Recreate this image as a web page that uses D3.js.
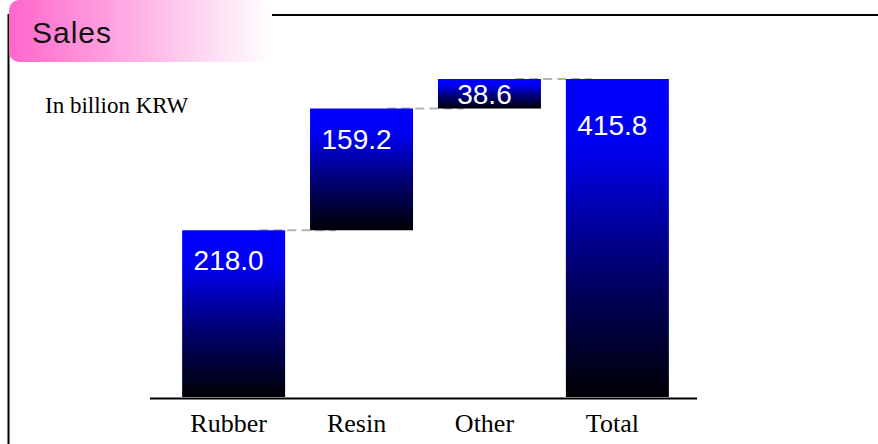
<!DOCTYPE html>
<html>
<head>
<meta charset="utf-8">
<script src="https://cdn.jsdelivr.net/npm/d3@7/dist/d3.min.js"></script>
<style>
  html, body { margin: 0; padding: 0; background: #ffffff; }
  svg { display: block; }
</style>
</head>
<body>
<svg id="chart" width="878" height="444"></svg>
<script>
// ---- data ----
const categories = ["Rubber", "Resin", "Other", "Total"];
const values = [218.0, 159.2, 38.6, 415.8];
const isTotal = [false, false, false, true];
const valueLabels = ["218.0", "159.2", "38.6", "415.8"];
const title = "Sales";
const unitNote = "In billion KRW";

// ---- build waterfall rows ----
let running = 0;
const rows = categories.map((c, i) => {
  let start, end;
  if (isTotal[i]) { start = 0; end = values[i]; }
  else { start = running; end = running + values[i]; running = end; }
  return { cat: c, value: values[i], label: valueLabels[i], start, end, total: isTotal[i] };
});

const svg = d3.select("#chart");
const W = 878, H = 444;

// ---- gradients ----
const defs = svg.append("defs");
const tabGrad = defs.append("linearGradient").attr("id", "tabGrad")
  .attr("x1", "0%").attr("x2", "100%").attr("y1", "0%").attr("y2", "0%");
tabGrad.append("stop").attr("offset", "0%").attr("stop-color", "#ff66cc");
tabGrad.append("stop").attr("offset", "100%").attr("stop-color", "#ffffff");

const barGrad = defs.append("linearGradient").attr("id", "barGrad")
  .attr("x1", "0%").attr("x2", "0%").attr("y1", "0%").attr("y2", "100%");
barGrad.append("stop").attr("offset", "0%").attr("stop-color", "#0000ff");
barGrad.append("stop").attr("offset", "20%").attr("stop-color", "#0000f4");
barGrad.append("stop").attr("offset", "60%").attr("stop-color", "#000070");
barGrad.append("stop").attr("offset", "100%").attr("stop-color", "#000004");

// ---- frame ----
svg.append("line").attr("x1", 8.5).attr("x2", 8.5).attr("y1", 14).attr("y2", H)
  .attr("stroke", "#000").attr("stroke-width", 2);
svg.append("line").attr("x1", 272).attr("x2", W).attr("y1", 15).attr("y2", 15)
  .attr("stroke", "#000").attr("stroke-width", 2);

// title tab
svg.append("rect").attr("x", 9).attr("y", 0).attr("width", 262).attr("height", 62)
  .attr("rx", 10).attr("ry", 10).attr("fill", "url(#tabGrad)");
svg.append("text").attr("x", 32).attr("y", 43)
  .attr("font-family", "'Liberation Sans', Arial, sans-serif")
  .attr("font-size", 30).attr("letter-spacing", 1).attr("fill", "#111").text(title);

// unit note
svg.append("text").attr("x", 45).attr("y", 113)
  .attr("font-family", "'Liberation Serif', 'Times New Roman', serif")
  .attr("font-size", 23).attr("fill", "#000").text(unitNote);

// ---- scales ----
const x = d3.scaleBand().domain(categories).range([154, 697])
  .paddingInner(0.195).paddingOuter(0.22);
const y = d3.scaleLinear().domain([0, d3.max(rows, d => d.end)]).range([397, 79]);
const bw = x.bandwidth();

// ---- connectors (behind bars) ----
const conns = rows.slice(1).map((r, i) => {
  const prev = rows[i];
  return { x1: x(prev.cat) + bw * 0.75, x2: x(r.cat) + bw * 0.25, yv: prev.end };
});
svg.append("g").selectAll("line").data(conns).join("line")
  .attr("x1", d => d.x1).attr("x2", d => d.x2)
  .attr("y1", d => y(d.yv)).attr("y2", d => y(d.yv))
  .attr("stroke", "#b4b4b4").attr("stroke-width", 2).attr("stroke-dasharray", "9,5");

// ---- bars ----
svg.append("g").selectAll("rect").data(rows).join("rect")
  .attr("x", d => x(d.cat)).attr("width", bw)
  .attr("y", d => y(d.end)).attr("height", d => y(d.start) - y(d.end))
  .attr("fill", "url(#barGrad)");

// ---- value labels ----
svg.append("g").selectAll("text").data(rows).join("text")
  .attr("x", d => x(d.cat) + bw / 2 - 5)
  .attr("y", d => {
    const h = y(d.start) - y(d.end);
    const off = d.total ? 56 : 40;
    return y(d.end) + Math.min(off, h / 2 + 10);
  })
  .attr("text-anchor", "middle")
  .attr("font-family", "'Liberation Sans', Arial, sans-serif")
  .attr("font-size", 28).attr("fill", "#ffffff")
  .text(d => d.label);

// ---- axis ----
const axis = d3.axisBottom(x).tickSize(0).tickPadding(0);
const gAxis = svg.append("g").attr("transform", "translate(0,398)").call(axis);
gAxis.select(".domain").remove();
gAxis.selectAll("text")
  .attr("font-family", "'Liberation Serif', 'Times New Roman', serif")
  .attr("font-size", 26).attr("fill", "#000")
  .attr("dy", 0).attr("y", 34).attr("dx", -5);
svg.append("line").attr("x1", 150).attr("x2", 697).attr("y1", 398.5).attr("y2", 398.5)
  .attr("stroke", "#000").attr("stroke-width", 2);
</script>
</body>
</html>
